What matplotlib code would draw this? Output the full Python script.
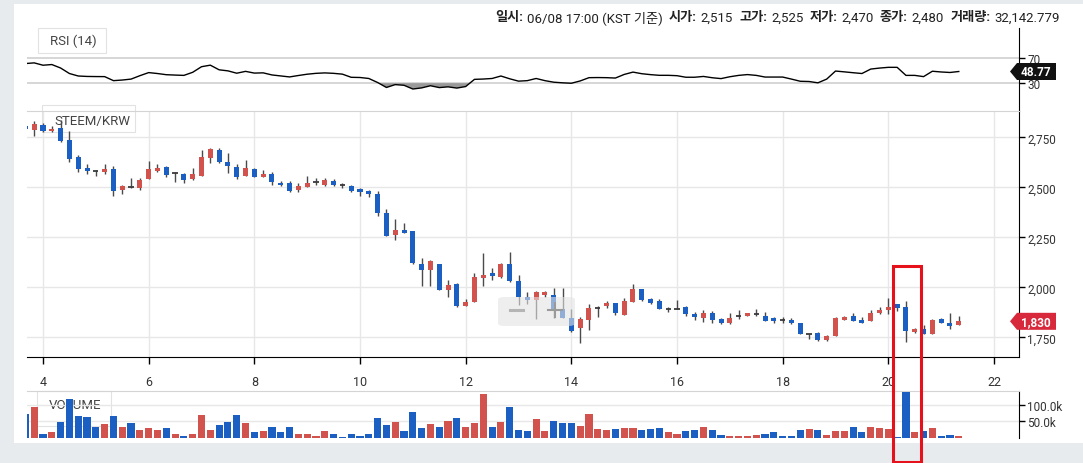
import numpy as np
import matplotlib
matplotlib.use("Agg")
import matplotlib.pyplot as plt
import matplotlib.transforms as mtransforms
from matplotlib.patches import Rectangle, FancyBboxPatch, Polygon
from matplotlib.lines import Line2D
from matplotlib.ticker import FuncFormatter

plt.rcParams['font.family'] = ['Roboto', 'Noto Sans CJK KR', 'DejaVu Sans']

W, H = 1083, 464

# 4h candles, first one starts two candles before day 4
first_day = 4 - 2 / 6
step = 1 / 6

opens = [2805, 2785, 2813, 2780, 2795, 2735, 2652, 2597, 2586, 2577,
         2593, 2488, 2502, 2498, 2542, 2583, 2602, 2568, 2567, 2542,
         2558, 2647, 2687, 2625, 2603, 2558, 2590, 2553, 2567, 2523,
         2520, 2487, 2503, 2527, 2510, 2532, 2512, 2508, 2490, 2482,
         2465, 2370, 2262, 2287, 2280, 2117, 2088, 2117, 1987, 2017,
         1908, 1928, 2048, 2073, 2050, 2117, 2033, 1953, 1938, 1962,
         1962, 1892, 1845, 1795, 1837, 1893, 1908, 1920, 1862, 1928,
         1990, 1942, 1932, 1892, 1892, 1900, 1865, 1845, 1870, 1842,
         1820, 1857, 1857, 1868, 1858, 1845, 1838, 1837, 1820, 1767,
         1770, 1738, 1757, 1837, 1858, 1837, 1832, 1870, 1887, 1915,
         1903, 1778, 1790, 1767, 1842, 1823, 1812]
highs = [2812, 2830, 2822, 2805, 2836, 2780, 2660, 2617, 2587, 2618,
         2605, 2513, 2547, 2547, 2630, 2618, 2608, 2575, 2570, 2597,
         2685, 2697, 2695, 2670, 2617, 2637, 2595, 2587, 2578, 2533,
         2532, 2520, 2558, 2545, 2545, 2540, 2523, 2512, 2495, 2487,
         2482, 2392, 2342, 2320, 2283, 2148, 2135, 2118, 2037, 2020,
         1940, 2070, 2173, 2095, 2120, 2178, 2062, 1978, 1980, 1982,
         1995, 1998, 1890, 1850, 1915, 1908, 1932, 1922, 1948, 2015,
         1993, 1945, 1942, 1903, 1937, 1908, 1878, 1887, 1883, 1845,
         1870, 1887, 1873, 1892, 1878, 1853, 1853, 1848, 1822, 1768,
         1778, 1760, 1850, 1858, 1873, 1853, 1887, 1903, 1945, 1917,
         1933, 1798, 1812, 1842, 1845, 1870, 1858]
lows = [2785, 2755, 2775, 2778, 2728, 2625, 2575, 2568, 2558, 2568,
        2455, 2467, 2496, 2485, 2540, 2575, 2552, 2525, 2522, 2538,
        2555, 2622, 2620, 2570, 2542, 2555, 2550, 2552, 2512, 2508,
        2478, 2478, 2500, 2512, 2508, 2508, 2498, 2478, 2458, 2453,
        2357, 2255, 2237, 2270, 2118, 2008, 2008, 1985, 1953, 1903,
        1905, 1925, 2008, 2037, 2048, 2028, 1912, 1915, 1840, 1953,
        1845, 1845, 1775, 1720, 1787, 1853, 1895, 1862, 1860, 1925,
        1933, 1918, 1890, 1878, 1890, 1858, 1837, 1828, 1820, 1818,
        1818, 1842, 1855, 1855, 1830, 1820, 1820, 1818, 1765, 1742,
        1733, 1733, 1755, 1835, 1830, 1820, 1830, 1867, 1865, 1882,
        1728, 1770, 1765, 1765, 1820, 1792, 1810]
closes = [2790, 2818, 2780, 2793, 2733, 2642, 2592, 2582, 2584, 2592,
          2482, 2508, 2500, 2538, 2593, 2597, 2563, 2570, 2538, 2568,
          2650, 2693, 2625, 2605, 2553, 2595, 2553, 2567, 2525, 2510,
          2482, 2507, 2520, 2529, 2535, 2512, 2510, 2482, 2478, 2468,
          2370, 2257, 2287, 2273, 2120, 2088, 2132, 1987, 2012, 1908,
          1925, 2053, 2062, 2058, 2117, 2032, 1953, 1938, 1978, 1978,
          1887, 1848, 1782, 1842, 1895, 1895, 1923, 1870, 1932, 1990,
          1937, 1922, 1892, 1893, 1893, 1865, 1850, 1870, 1837, 1820,
          1845, 1858, 1870, 1869, 1833, 1830, 1837, 1820, 1767, 1768,
          1738, 1757, 1848, 1850, 1833, 1823, 1873, 1887, 1900, 1898,
          1782, 1792, 1767, 1837, 1823, 1808, 1830]
volumes_k = [74, 95, 10, 17, 48, 120, 66, 63, 34, 41,
             66, 34, 44, 24, 28, 24, 28, 12, 5.6, 12,
             70, 24, 38, 47, 70, 44, 17, 20, 31, 17,
             31, 10, 10, 5.6, 20, 10, 1, 12, 5.6, 12,
             59, 37.6, 47, 20.5, 79, 30, 41, 34, 52.5, 59,
             34, 44, 136, 34, 47, 93, 24, 20.5, 56, 19,
             51.5, 44, 46, 36, 73, 27, 22.5, 27, 30, 30,
             22.5, 27, 30, 16, 10.6, 19, 22.5, 33, 22.5, 8.4,
             4, 4, 4, 8.4, 10.6, 16, 4, 4, 22.5, 27,
             22.5, 8.4, 19, 19, 33, 16, 33, 30, 27, 3,
             141, 16, 19, 30, 4, 8.4, 4]
rsi = [61.6, 62.7, 58.9, 60, 54.4, 45.5, 41.5, 40.8, 40.6, 40.5,
       34, 35, 36.5, 42, 47, 45.5, 43.6, 43, 42.5, 47.5,
       56.5, 59, 51.5, 49.8, 46, 49, 46.2, 46.6, 43.2, 41.6,
       40, 42.3, 44.4, 45.8, 46.5, 45.8, 44.5, 39.4, 39.1, 37.5,
       31, 23, 27.6, 26.5, 20.5, 22.3, 25.8, 22.8, 24, 22,
       24.5, 36.1, 36.6, 37.5, 41.5, 37, 33.2, 34, 37.5, 34,
       31.5, 30.5, 29.8, 33.5, 38.8, 39, 38.8, 38.2, 44, 47.8,
       45.2, 43.7, 42.6, 42.6, 42, 39.5, 39.5, 40.8, 38.7, 37.3,
       40.3, 42.5, 43.8, 42.5, 39.8, 39.8, 39.8, 36.5, 33, 32.6,
       30.5, 36.5, 49.5, 48.2, 46.8, 45.5, 52.7, 54.3, 55.5, 55.5,
       42.5, 42.5, 40.5, 49.2, 48, 47.2, 48.77]

info_parts = [("일시:", True), ("06/08 17:00 (KST 기준)", False),
              ("시가:", True), ("2,515", False), ("고가:", True), ("2,525", False),
              ("저가:", True), ("2,470", False), ("종가:", True), ("2,480", False),
              ("거래량:", True), ("32,142.779", False)]

RED = '#d2524e'
BLUE = '#1c5fc2'
GRID = '#e7e7e7'
TXT = '#333333'

o, h, l, c = (np.array(a, dtype=float) for a in (opens, highs, lows, closes))
vol = np.array(volumes_k) * 1000
t = first_day + step * np.arange(len(o))
up = c >= o
colors = np.where(up, RED, BLUE)


def fig_rect(x0, y0, x1, y1):
    return [x0 / W, 1 - y1 / H, (x1 - x0) / W, (y1 - y0) / H]


fig = plt.figure(figsize=(W / 100, H / 100), dpi=100, facecolor='#e8ebee')
fig.add_artist(Rectangle((14 / W, 1 - 444 / H), 1, (444 - 5) / H, transform=fig.transFigure,
                         fc='white', ec='none', zorder=-3))

ax_rsi = fig.add_axes(fig_rect(27, 29, 1019, 112))
ax_p = fig.add_axes(fig_rect(27, 112, 1019, 358.3), sharex=ax_rsi)
ax_v = fig.add_axes(fig_rect(27, 392, 1019, 438.5), sharex=ax_rsi)

for ax in (ax_rsi, ax_p, ax_v):
    ax.set_facecolor('none')
    for s in ('left', 'top', 'bottom'):
        ax.spines[s].set_visible(False)
    ax.spines['right'].set_color('black')
    ax.yaxis.tick_right()
    ax.tick_params(axis='y', right=True, left=False, length=4, width=1, pad=2,
                   labelsize=8.5, labelcolor=TXT)
    ax.tick_params(axis='x', bottom=False, labelbottom=False)

# candles
body = np.abs(c - o)
doji = body < 5
ax_p.vlines(t, l, h, color='#4a4a4a', lw=1, zorder=3)
ax_p.bar(t[~doji], body[~doji], bottom=np.minimum(o, c)[~doji], width=0.095,
         color=colors[~doji], lw=0, zorder=4)
ax_p.hlines(c[doji], t[doji] - 0.05, t[doji] + 0.05, color='#3a3a3a', lw=1.3, zorder=4)
ax_p.set_ylim(1650, 2882)
ax_p.set_yticks([1750, 2000, 2250, 2500, 2750])
ax_p.yaxis.set_major_formatter(FuncFormatter(lambda v, p: f'{v:,.0f}'))
ax_p.set_xticks(np.arange(4, 23, 2))
ax_p.grid(True, color=GRID, lw=1, zorder=0)
ax_p.spines['bottom'].set_visible(True)
ax_p.spines['bottom'].set_color('black')
ax_p.spines['top'].set_visible(True)
ax_p.spines['top'].set_color('#d4d4d4')
ax_p.tick_params(axis='x', bottom=True, labelbottom=True, length=5, width=1,
                 pad=8, labelsize=9, labelcolor=TXT)
ax_p.set_xlim(3.697, 22.473)

# rsi
ax_rsi.plot(t, rsi, color='black', lw=1, zorder=3)
ax_rsi.fill_between(t, rsi, 30, where=np.array(rsi) < 30, interpolate=True,
                    color='#9a9a9a', lw=0, zorder=2)
ax_rsi.axhline(70, color='#cfcfcf', lw=1.2, zorder=1)
ax_rsi.axhline(30, color='#cfcfcf', lw=1.2, zorder=1)
ax_rsi.set_ylim(-15, 119)
ax_rsi.set_yticks([30, 70])

# volume
ax_v.bar(t, vol, width=0.135, color=colors, lw=0, zorder=3)
ax_v.set_ylim(0, 144000)
ax_v.set_yticks([50000, 100000])
ax_v.yaxis.set_major_formatter(FuncFormatter(lambda v, p: f'{v / 1000:.1f}k'))
ax_v.grid(True, axis='y', color=GRID, lw=1, zorder=0)
ax_v.spines['top'].set_visible(True)
ax_v.spines['top'].set_color('#d4d4d4')


def value_tag(ax, value, text, fc):
    anchor = mtransforms.ScaledTranslation(1, value, ax.get_yaxis_transform())
    verts = [(-9, 0), (-2, 8.5), (37, 8.5), (37, -8.5), (-2, -8.5)]
    poly = Polygon(verts, closed=True, transform=mtransforms.IdentityTransform() + anchor,
                   fc=fc, ec='none', clip_on=False, zorder=10)
    ax.add_artist(poly)
    ax.annotate(text, xy=(1, value), xycoords=ax.get_yaxis_transform(), xytext=(17, 0),
                textcoords='offset pixels', ha='center', va='center', color='white',
                fontsize=8.5, fontweight='bold', zorder=11, annotation_clip=False)


value_tag(ax_rsi, rsi[-1], f'{rsi[-1]:.2f}', '#111111')
value_tag(ax_p, closes[-1], f'{closes[-1]:,}', '#d8283c')


# panel label boxes
def label_box(x0, y0, x1, y1, text, ty):
    fig.add_artist(Rectangle((x0 / W, 1 - y1 / H), (x1 - x0) / W, (y1 - y0) / H,
                             transform=fig.transFigure, fc='white', ec='#e2e2e2',
                             lw=0.8, zorder=-1))
    fig.text((x0 + 12) / W, 1 - ty / H, text, fontsize=9.5, color='#444444',
             ha='left', va='center', zorder=-1)


label_box(38, 29, 106, 54, 'RSI (14)', 41.5)
label_box(42, 106, 135, 133, 'STEEM/KRW', 121.5)
label_box(37, 392, 111, 427, 'VOLUME', 405.5)

# info line
renderer = fig.canvas.get_renderer()
x = 495
for i, (txt, bold) in enumerate(info_parts):
    tx = fig.text(x / W, 1 - 18 / H, txt, fontsize=9.5, color='#222222',
                  fontweight='bold' if bold else 'normal', ha='left', va='center')
    x += tx.get_window_extent(renderer).width + (4 if bold else 6)

# zoom buttons overlay
fig.add_artist(FancyBboxPatch((498 / W, 1 - 327 / H), 77 / W, 29 / H,
                              boxstyle='round,pad=0,rounding_size=0.006',
                              transform=fig.transFigure, fc='#e4e4e4', ec='none',
                              alpha=0.6, zorder=5))
fig.add_artist(Line2D([510 / W, 523 / W], [1 - 311 / H] * 2, transform=fig.transFigure,
                      color='#b5b5b5', lw=2.2, zorder=6))
fig.add_artist(Line2D([548 / W, 562 / W], [1 - 311 / H] * 2, transform=fig.transFigure,
                      color='#9a9a9a', lw=1.5, zorder=6))
fig.add_artist(Line2D([555 / W, 555 / W], [1 - 304 / H, 1 - 318 / H], transform=fig.transFigure,
                      color='#9a9a9a', lw=1.5, zorder=6))

# red highlight box
fig.add_artist(Rectangle((893.3 / W, 1 - 463 / H), 27.4 / W, (463 - 266.7) / H,
                         transform=fig.transFigure, fc='none', ec='#e5121b',
                         lw=2.2, zorder=20, clip_on=False))

fig.savefig('out.png', dpi=100, facecolor=fig.get_facecolor())
